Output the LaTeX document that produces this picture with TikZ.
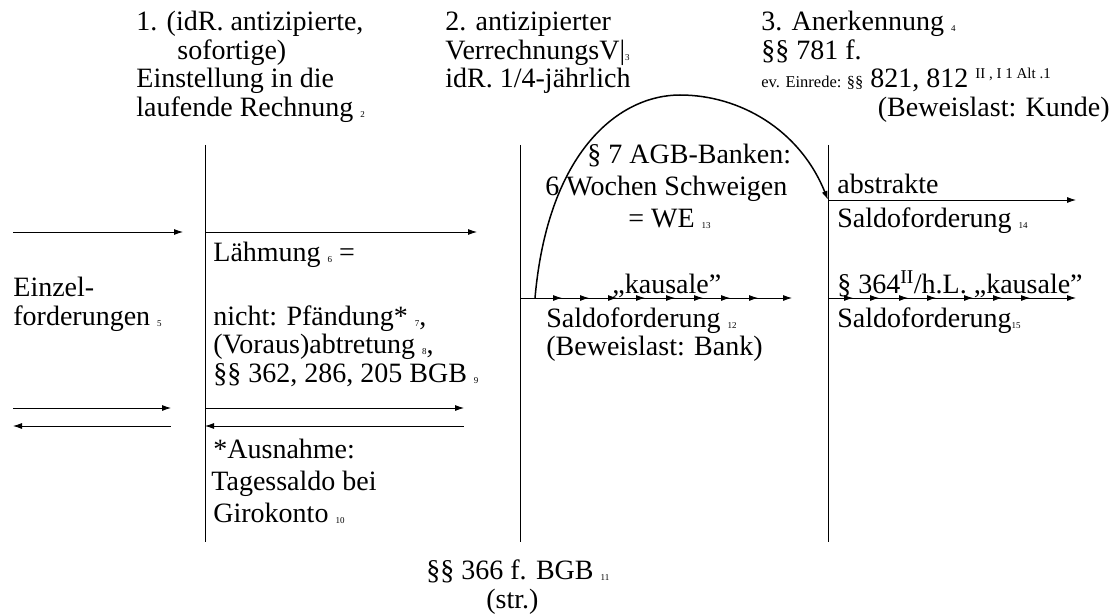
\documentclass[tikz,border=0pt]{standalone}
\usepackage{fontspec}
\setmainfont{Liberation Serif}
\usetikzlibrary{arrows.meta}

\newcommand\fn[1]{\raisebox{-1pt}{\fontsize{9}{9}\selectfont #1}}

\tikzset{
  x=1pt, y=-1pt,
  >={Latex[length=9pt,width=6pt]},
  txt/.style={anchor=base west, inner sep=0pt, align=left,
              font=\fontsize{28}{28.5}\selectfont},
  wide/.style={font=\fontsize{28}{32}\selectfont},
  bow/.style={line width=1.5pt}
}

\begin{document}
\begin{tikzpicture}[line width=0.8pt]
            \useasboundingbox (0,0) rectangle (1116,615);
            % the three dates (multi-line nodes sit on their last baseline)
            \foreach \x in {205,520,828}
                \draw (\x,145) -- (\x,542);
            \path (136,116.5) node (first) [txt] {1. (idR. antizipierte,\\\hspace*{41pt}sofortige)\\Einstellung in die\\laufende Rechnung \fn{2}};
            \path (445,88) node (second) [txt] {2. antizipierter\\VerrechnungsV|\fn{3}\\idR. 1/4-jährlich};
            \path (761,88) node (third) [txt] {3. Anerkennung \fn{4}\\§§ 781 f.\\{\fontsize{16.5}{16.5}\selectfont ev. Einrede: §§} 821, 812 \textsuperscript{\fontsize{15}{15}\selectfont II , I 1 Alt .1}};
            \path (1110,116.5) node (kunde) [txt, anchor=base east] {(Beweislast: Kunde)};

            % before 1.
            \draw [->] (13,232) -- (183,232);
            \path (13,325) node (einzel) [txt] {Einzel-\\forderungen \fn{5}};
            \draw [->] (13,408) -- (171,408);
            \draw [<-] (13,426) -- (171,426);

            % between 1. and 2.
            \draw [->] (205,232) -- (477,232);
            \path (213,261.5) node (laehm) [txt] {Lähmung \fn{6} =};
            \path (213,382) node (nicht) [txt] {nicht: Pfändung* \fn{7},\\(Voraus)abtretung \fn{8},\\§§ 362, 286, 205 BGB \fn{9}};
            \draw [->] (205,408) -- (464,408);
            \draw [<-] (205,426) -- (464,426);
            \path (211,522) node (ausn) [txt, wide] {\hspace*{2pt}*Ausnahme:\\Tagessaldo bei\\\hspace*{2pt}Girokonto \fn{10}};
            \path (426,608) node (bgb) [txt] {§§ 366 f. BGB \fn{11}\\\hspace*{60pt}(str.)};

            % between 2. and 3.
            \coordinate (start) at (535,298);
            \coordinate (top) at (680,95);
            \coordinate (abs) at (828,200);
            \draw [->] (520,298) -- (792,298);
            \foreach \x in {562,589,617,645,675,703,730,758}
                \draw [->] (\x-8,298) -- (\x,298);
            \path (612,293) node (kaus1) [txt] {„kausale”};
            \path (546,355.5) node (sald12) [txt] {Saldoforderung \fn{12}\\(Beweislast: Bank)};
            \path (545,227) node (agb) [txt, wide] {\hspace*{42pt}§ 7 AGB-Banken:\\6 Wochen Schweigen\\\hspace*{83pt}= WE \fn{13}};
            \draw [bow, ->] (start) .. controls (548,150) and (620,95) .. (top)
                                    .. controls (740,95) and (800,130) .. (abs);

            % after 3.
            \draw [->] (abs) -- (1076,200);
            \path (837,193) node (abstr) [txt] {abstrakte};
            \path (837,227) node (sald14) [txt] {Saldoforderung \fn{14}};
            \draw [->] (828,298) -- (1076,298);
            \foreach \x in {853,879,908,936,973,1002,1030}
                \draw [->] (\x-8,298) -- (\x,298);
            \path (837,293) node (kaus2) [txt] {§ 364\textsuperscript{II}/h.L. „kausale”};
            \path (837,327) node (sald15) [txt] {Saldoforderung\fn{15}};
\end{tikzpicture}
\end{document}
